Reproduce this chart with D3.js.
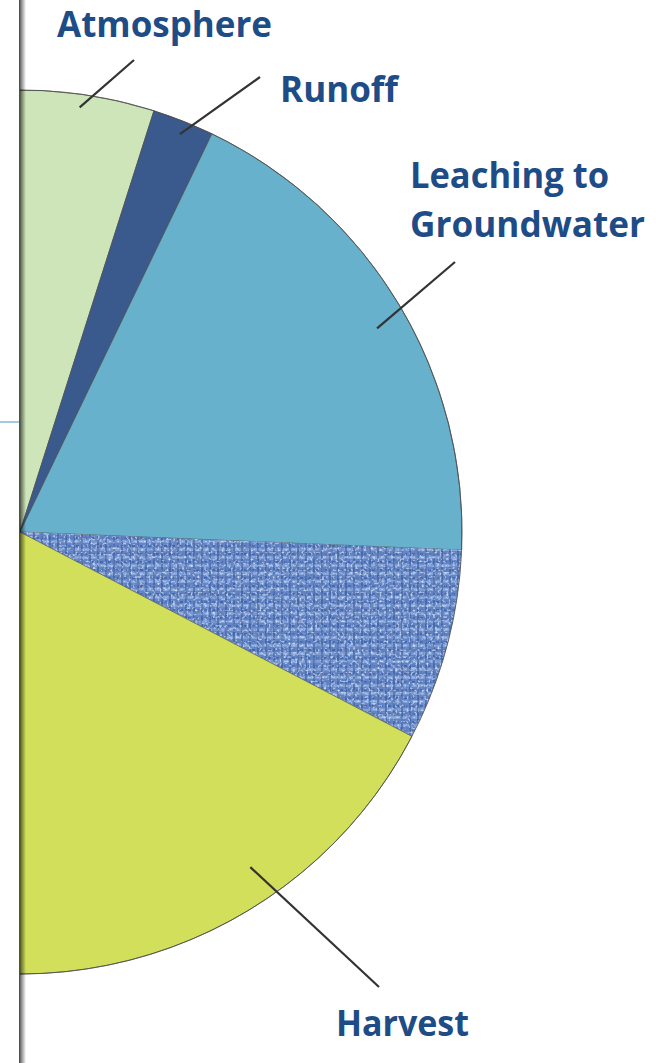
<!DOCTYPE html>
<meta charset="utf-8">
<script src="https://cdn.jsdelivr.net/npm/d3@7/dist/d3.min.js"></script>
<style>
body { margin: 0; background: #fff; }
.lbl { font-family: "Open Sans", sans-serif; font-weight: bold; fill: #1e4c86; }
</style>
<body>
<script>
// share of the whole pie (%), only the right part is visible
var categories = ["Atmosphere", "Runoff", "Leaching to Groundwater", "Soil", "Harvest", "Other"];
var values = [5.4, 2.25, 18.5, 7.0, 25, 41.85];
var colors = ["#cde5b9", "#3a5a8e", "#67b1cd", "url(#weave)", "#d2df5b", "#ffffff"];

// label text lines (empty = no label)
var labelLines = [["Atmosphere"], ["Runoff"], ["Leaching to", "Groundwater"], [], ["Harvest"], []];

var width = 656, height = 1063;
var cx = 20, cy = 532, R = 442;

var svg = d3.select("body").append("svg")
    .attr("width", width)
    .attr("height", height);

var defs = svg.append("defs");
defs.append("clipPath").attr("id", "cut")
  .append("rect").attr("x", 20).attr("y", 0).attr("width", width).attr("height", height);

// woven blue fabric
var pat = defs.append("pattern").attr("id", "weave")
    .attr("patternUnits", "userSpaceOnUse").attr("width", 8).attr("height", 8);
pat.append("rect").attr("width", 8).attr("height", 8).attr("fill", "#6386c9");
pat.append("rect").attr("x", 0).attr("y", 0).attr("width", 8).attr("height", 3).attr("fill", "#a4c0ef").attr("opacity", 0.55);
pat.append("rect").attr("x", 5).attr("y", 0).attr("width", 2).attr("height", 8).attr("fill", "#27478a").attr("opacity", 0.5);
pat.append("rect").attr("x", 0).attr("y", 5).attr("width", 3).attr("height", 2).attr("fill", "#2c4d92").attr("opacity", 0.55);
pat.append("rect").attr("x", 1).attr("y", 1).attr("width", 2).attr("height", 1).attr("fill", "#c6dafa").attr("opacity", 0.6);

var f = defs.append("filter").attr("id", "grain")
    .attr("x", 0).attr("y", 0).attr("width", 1).attr("height", 1);
f.append("feTurbulence").attr("type", "fractalNoise").attr("baseFrequency", "0.2 0.24")
    .attr("numOctaves", 2).attr("seed", 4).attr("result", "n");
f.append("feColorMatrix").attr("in", "n").attr("type", "matrix")
    .attr("values", "0 0 0 0 0.12  0 0 0 0 0.22  0 0 0 0 0.5  0 0 0 -3 1.75")
    .attr("result", "dark");
f.append("feComposite").attr("in", "dark").attr("in2", "SourceGraphic").attr("operator", "in").attr("result", "d2");
f.append("feTurbulence").attr("type", "fractalNoise").attr("baseFrequency", "0.45")
    .attr("numOctaves", 1).attr("seed", 9).attr("result", "n2");
f.append("feColorMatrix").attr("in", "n2").attr("type", "matrix")
    .attr("values", "0 0 0 0 0.72  0 0 0 0 0.82  0 0 0 0 0.97  0 0 0 3.2 -1.75")
    .attr("result", "light");
f.append("feComposite").attr("in", "light").attr("in2", "SourceGraphic").attr("operator", "in").attr("result", "l2");
var fm = f.append("feMerge");
fm.append("feMergeNode").attr("in", "SourceGraphic");
fm.append("feMergeNode").attr("in", "d2");
fm.append("feMergeNode").attr("in", "l2");

var data = categories.map(function(c, i) { return {name: c, value: values[i], color: colors[i], lines: labelLines[i]}; });

var deg = Math.PI / 180;
var pie = d3.pie()
    .sort(null)
    .value(function(d) { return d.value; })
    .startAngle(-1.8 * deg)
    .endAngle(358.2 * deg);

var arc = d3.arc().innerRadius(0).outerRadius(R);

var g = svg.append("g")
    .attr("clip-path", "url(#cut)")
  .append("g")
    .attr("transform", "translate(" + cx + "," + cy + ")");

g.selectAll("path")
  .data(pie(data))
  .enter().append("path")
    .attr("d", arc)
    .attr("fill", function(d) { return d.data.color; })
    .attr("filter", function(d) { return d.data.name == "Soil" ? "url(#grain)" : null; })
    .attr("stroke", function(d) { return d.data.name == "Soil" ? "none" : "#4d4d4d"; })
    .attr("stroke-width", 0.9)
    .attr("stroke-opacity", 0.8);

// outer rim
g.append("circle").attr("r", R).attr("fill", "none")
    .attr("stroke", "#4d4d4d").attr("stroke-width", 1).attr("stroke-opacity", 0.8);

// label layout: leader start (angle, radius share), leader end, text position
var layout = {
  "Atmosphere": {a: 8.0, k: 0.97, ex: 134, ey: 60, tx: 57, ty: 37, w: [215]},
  "Runoff": {a: 21.9, k: 0.97, ex: 260, ey: 77, tx: 280, ty: 102, w: [118]},
  "Leaching to Groundwater": {a: 60.3, k: 0.93, ex: 455, ey: 262, tx: 410, ty: 188, w: [199, 235]},
  "Harvest": {a: 145.5, k: 0.92, ex: 379, ey: 987, tx: 336, ty: 1036, w: [133]}
};

data.forEach(function(d) {
  var L = layout[d.name];
  if (!L) return;
  var sx = cx + Math.sin(L.a * deg) * R * L.k,
      sy = cy - Math.cos(L.a * deg) * R * L.k;
  svg.append("line")
      .attr("x1", sx).attr("y1", sy)
      .attr("x2", L.ex).attr("y2", L.ey)
      .attr("stroke", "#333").attr("stroke-width", 2.2);
  d.lines.forEach(function(t, j) {
    svg.append("text")
        .attr("class", "lbl")
        .attr("x", L.tx)
        .attr("y", L.ty + j * 49)
        .attr("font-size", "36px")
        .attr("textLength", L.w[j])
        .attr("lengthAdjust", "spacingAndGlyphs")
        .text(t);
  });
});

// slide edge on the left
var gr = defs.append("linearGradient").attr("id", "edge");
gr.append("stop").attr("offset", "0").attr("stop-color", "#000").attr("stop-opacity", 0.75);
gr.append("stop").attr("offset", "0.35").attr("stop-color", "#000").attr("stop-opacity", 0.45);
gr.append("stop").attr("offset", "1").attr("stop-color", "#000").attr("stop-opacity", 0);
svg.append("rect").attr("x", 19).attr("y", 0).attr("width", 7).attr("height", height).attr("fill", "url(#edge)");

svg.append("line")
    .attr("x1", 0).attr("x2", 19).attr("y1", 422).attr("y2", 422)
    .attr("stroke", "#6aa7c9").attr("stroke-width", 1.2);
</script>
</body>
